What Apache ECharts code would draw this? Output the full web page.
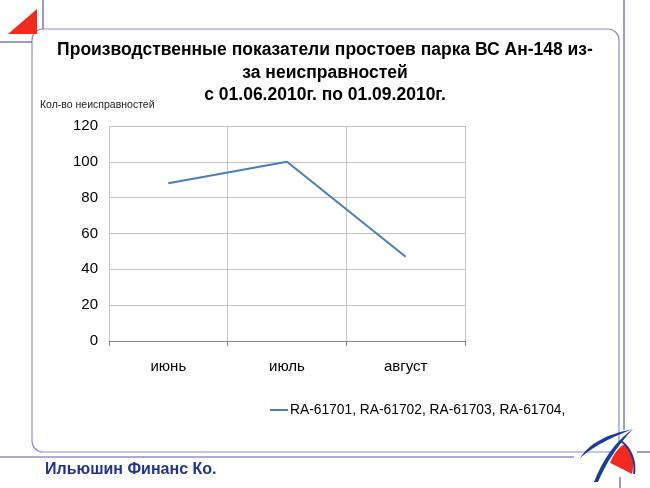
<!DOCTYPE html>
<html><head><meta charset="utf-8">
<script src="https://cdn.jsdelivr.net/npm/echarts@6/dist/echarts.min.js"></script>
<style>html,body{margin:0;padding:0;background:#fff}#c{width:650px;height:488px}</style>
</head><body><div id="c"></div>
<script>
var categories = ['июнь', 'июль', 'август'];
var values = [88, 100, 47];
var seriesName = 'RA-61701, RA-61702, RA-61703, RA-61704,';
var titleText = 'Производственные показатели простоев парка ВС Ан-148 из-\nза неисправностей\nс 01.06.2010г. по 01.09.2010г.';
var axisTitle = 'Кол-во неисправностей';
var footerText = 'Ильюшин Финанс Ко.';

// decoration helper: sample cubic bezier segments into polygon points
function bez(p0, c1, c2, p1, n) {
  var pts = [];
  for (var i = 0; i <= n; i++) {
    var t = i / n, u = 1 - t;
    pts.push([u*u*u*p0[0] + 3*u*u*t*c1[0] + 3*u*t*t*c2[0] + t*t*t*p1[0],
              u*u*u*p0[1] + 3*u*u*t*c1[1] + 3*u*t*t*c2[1] + t*t*t*p1[1]]);
  }
  return pts;
}
function shape(segs) {
  var pts = [];
  segs.forEach(function (s) { pts = pts.concat(bez(s[0], s[1], s[2], s[3], 16)); });
  return pts;
}

var chart = echarts.init(document.getElementById('c'), null, {renderer: 'canvas'});
var lineDark = '#5a5aa6', lineLight = '#8c8cd0', logoBlue = '#1c3c9c', logoRed = '#f02a1e';
chart.setOption({
  animation: false,
  backgroundColor: '#fff',
  title: [
    {text: titleText, left: 'center', top: 39, padding: 0,
     textStyle: {fontFamily: 'Liberation Sans', fontSize: 17.5, fontWeight: 'bold', color: '#000', lineHeight: 22.5}},
    {text: axisTitle, left: 40, top: 100, padding: 0,
     textStyle: {fontFamily: 'Liberation Sans', fontSize: 10.5, fontWeight: 'normal', color: '#222'}},
    {text: footerText, left: 45, top: 462, padding: 0,
     textStyle: {fontFamily: 'Liberation Sans', fontSize: 16, fontWeight: 'bold', color: '#1f3390'}}
  ],
  grid: {left: 109, right: 185, top: 126, bottom: 147, containLabel: false},
  legend: {left: 265, top: 398, itemWidth: 18, itemHeight: 2, itemGap: 2,
    icon: 'rect',
    textStyle: {fontFamily: 'Liberation Sans', fontSize: 13.8, color: '#000', padding: [0, 0, 0, -3]},
    data: [seriesName]},
  xAxis: {type: 'category', data: categories, boundaryGap: true,
    axisLine: {lineStyle: {color: '#868686', width: 1}},
    axisTick: {show: true, length: 5, lineStyle: {color: '#868686'}},
    splitLine: {show: true, lineStyle: {color: '#c4c4c4', width: 1}},
    axisLabel: {fontFamily: 'Liberation Sans', fontSize: 15, color: '#000', margin: 18}},
  yAxis: {type: 'value', min: 0, max: 120, interval: 20,
    axisLine: {show: false}, axisTick: {show: false},
    splitLine: {lineStyle: {color: '#c4c4c4', width: 1}},
    axisLabel: {fontFamily: 'Liberation Sans', fontSize: 15, color: '#000', margin: 11}},
  series: [{name: seriesName, type: 'line', data: values, symbol: 'none',
    lineStyle: {color: '#4a7ebb', width: 2}, itemStyle: {color: '#4a7ebb'}}],
  graphic: [
    {type: 'rect', shape: {x: 32, y: 29, width: 587, height: 423, r: 11}, style: {fill: null, stroke: lineLight, lineWidth: 1.2}, z: -1},
    {type: 'line', shape: {x1: 43, y1: 0, x2: 43, y2: 29}, style: {stroke: lineDark, lineWidth: 1.2}},
    {type: 'line', shape: {x1: 0, y1: 42, x2: 32, y2: 42}, style: {stroke: lineDark, lineWidth: 1.2}},
    {type: 'line', shape: {x1: 624, y1: 0, x2: 624, y2: 430}, style: {stroke: lineDark, lineWidth: 1.2}},
    {type: 'line', shape: {x1: 620, y1: 477, x2: 620, y2: 488}, style: {stroke: lineDark, lineWidth: 1.2}},
    {type: 'line', shape: {x1: 0, y1: 457, x2: 574, y2: 457}, style: {stroke: lineDark, lineWidth: 1.2}},
    {type: 'line', shape: {x1: 637, y1: 452, x2: 650, y2: 452}, style: {stroke: lineDark, lineWidth: 1.2}},
    {type: 'polygon', shape: {points: [[8, 34], [37, 34], [37, 9]]}, style: {fill: logoRed}},
    {type: 'polygon', shape: {points: shape([
      [[580,458],[590,443],[605,435],[633,429]],
      [[633,429],[607,439],[593,447],[580,458]]])}, style: {fill: logoBlue}},
    {type: 'polygon', shape: {points: shape([
      [[610,463],[614,453],[619,447],[625,444]],
      [[625,444],[632,450],[635,462],[632,474]],
      [[632,474],[624,470],[617,466],[610,463]]])}, style: {fill: logoRed}},
    {type: 'polygon', shape: {points: shape([
      [[594,482],[602,462],[613,443],[633,429]],
      [[633,429],[618,445],[606,463],[598,482]]])}, style: {fill: logoBlue}},
    {type: 'bezierCurve', shape: {x1: 621, y1: 441, cpx1: 631, cpy1: 448, cpx2: 636, cpy2: 462, x2: 634, y2: 474},
      style: {fill: null, stroke: logoBlue, lineWidth: 2}}
  ]
});
</script></body></html>
